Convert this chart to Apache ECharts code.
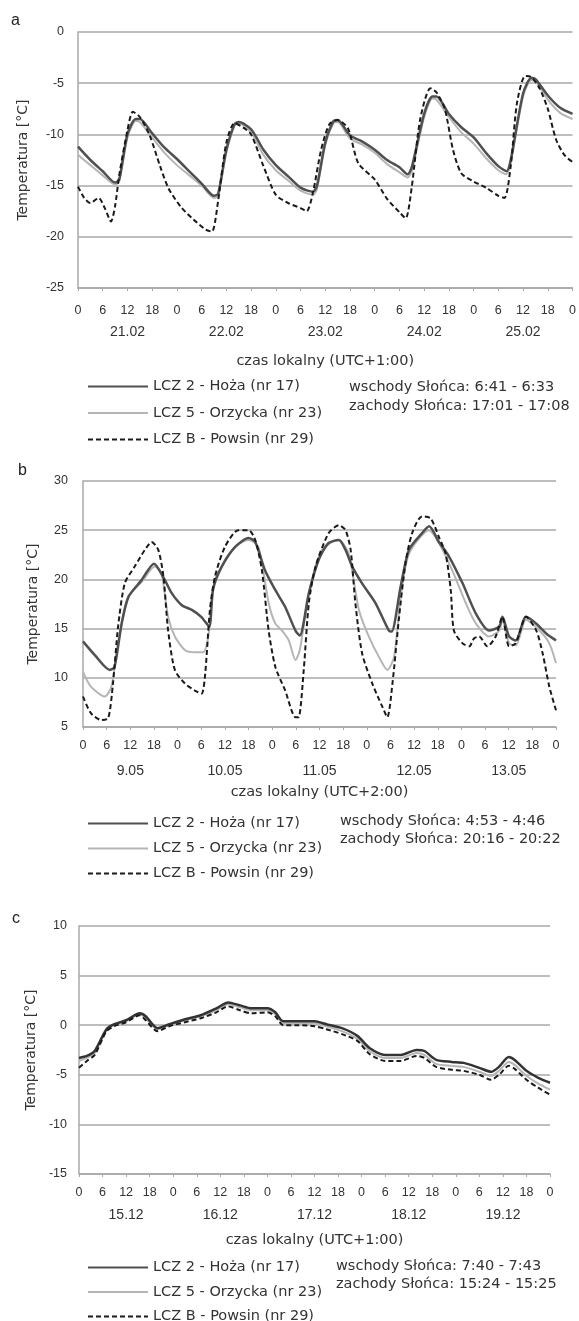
<!DOCTYPE html>
<html>
<head>
<meta charset="utf-8">
<script src="https://cdn.jsdelivr.net/npm/echarts@6/dist/echarts.min.js"></script>
<style>
html,body{margin:0;padding:0;background:#fff;}
#chart{width:579px;height:1321px;}
</style>
</head>
<body>
<div id="chart"></div>
<script>
// ---------- DATA ----------
const hourLabels = ['0', '6', '12', '18'];
const seriesNames = ['LCZ 2 - Hoża (nr 17)', 'LCZ 5 - Orzycka (nr 23)', 'LCZ B - Powsin (nr 29)'];

// panel a (luty)
const datesA = ['21.02', '22.02', '23.02', '24.02', '25.02'];
const aHoza = [[0,-11.2],[3,-12.5],[6,-13.6],[9,-14.7],[10,-14.4],[12,-10.0],[14,-8.5],[15,-8.5],[18,-9.9],[21,-11.3],[24,-12.4],[27,-13.6],[30,-14.8],[33,-16.0],[34,-15.8],[36,-11.5],[38,-9.0],[39,-8.8],[42,-9.5],[45,-11.5],[48,-13.0],[51,-14.1],[54,-15.2],[57,-15.6],[58,-15.0],[60,-10.8],[62,-8.7],[63,-8.6],[66,-10.1],[69,-10.7],[72,-11.5],[75,-12.5],[78,-13.2],[80,-13.9],[81,-13.2],[84,-8.0],[86,-6.3],[87,-6.3],[90,-8.0],[93,-9.3],[96,-10.3],[99,-11.8],[102,-13.1],[104,-13.6],[105,-12.5],[108,-6.0],[110,-4.5],[111,-4.6],[114,-6.2],[117,-7.4],[120,-8.0]];
const aOrzycka = [[0,-12.0],[3,-13.0],[6,-14.0],[9,-14.9],[10,-14.6],[12,-10.3],[14,-8.7],[15,-8.8],[18,-10.3],[21,-11.8],[24,-13.0],[27,-14.0],[30,-15.0],[33,-16.2],[34,-16.0],[36,-11.8],[38,-9.1],[39,-8.9],[42,-9.8],[45,-12.0],[48,-13.5],[51,-14.5],[54,-15.5],[57,-15.9],[58,-15.3],[60,-11.0],[62,-8.9],[63,-8.8],[66,-10.4],[69,-11.0],[72,-11.8],[75,-12.9],[78,-13.7],[80,-14.2],[81,-13.6],[84,-8.3],[86,-6.5],[87,-6.6],[90,-8.3],[93,-9.8],[96,-10.9],[99,-12.3],[102,-13.5],[104,-13.9],[105,-12.8],[108,-6.3],[110,-4.7],[111,-4.8],[114,-6.6],[117,-7.9],[120,-8.5]];
const aPowsin = [[0,-15.1],[1.5,-16.2],[3,-16.7],[5,-16.2],[6.5,-17.2],[8,-18.5],[9,-17.0],[10,-14.0],[12,-9.6],[13.3,-7.8],[15,-8.3],[17.4,-10.1],[20,-13.2],[22,-15.3],[25,-17.1],[28,-18.3],[31,-19.3],[32.5,-19.5],[34,-16.5],[36,-10.8],[38,-8.9],[40,-9.3],[42,-10.0],[45,-13.1],[48,-15.9],[51,-16.7],[54,-17.2],[55.5,-17.5],[57,-15.7],[59,-11.5],[61,-9.0],[63,-8.6],[65.5,-9.4],[68,-12.8],[72,-14.4],[75,-16.3],[78,-17.6],[79.5,-18.2],[81,-15.1],[83,-8.6],[85.5,-5.5],[87,-5.9],[89,-7.5],[91,-11.5],[93,-13.8],[96,-14.6],[99,-15.2],[102,-16.0],[103.5,-16.2],[105,-13.1],[106.5,-7.0],[108.5,-4.3],[110,-4.4],[112,-5.5],[114,-7.5],[116,-10.5],[118,-12.0],[120,-12.7]];

// panel b (maj)
const datesB = ['9.05', '10.05', '11.05', '12.05', '13.05'];
const bHoza = [[0,13.7],[3,12.3],[6.8,10.8],[8,11.1],[9.8,15.5],[11.5,18.2],[14.8,19.9],[18,21.6],[20.8,19.9],[22.5,18.6],[25,17.4],[27.6,16.9],[30,16.2],[32,15.2],[33,19.0],[35.2,21.3],[38.6,23.3],[42,24.2],[43.7,23.8],[46.2,20.9],[48.8,18.9],[51.3,17.2],[53.9,14.8],[55,14.3],[57.3,18.6],[59.8,22.0],[62.3,23.7],[64.9,24.0],[66.6,23.0],[68.3,21.3],[70.8,19.6],[74.2,17.6],[77.6,14.8],[78.3,14.7],[80.6,19.3],[82.7,23.0],[86,24.7],[87.8,25.4],[90.3,23.8],[92.9,22.3],[96.3,19.6],[99.7,16.5],[103,14.8],[105.6,15.2],[106.4,16.2],[108.1,14.2],[109.8,13.8],[112.4,16.2],[115,15.5],[117.5,14.5],[120,13.8]];
const bOrzycka = [[0,10.6],[2,9.1],[5.5,8.1],[7.2,9.1],[8.9,13.5],[11.5,18.2],[15,19.8],[18.2,21.3],[19.9,20.6],[21.6,16.2],[23.3,14.2],[25.9,12.8],[28.4,12.6],[30.5,12.6],[31.8,14.2],[33.5,19.9],[38.6,23.3],[42,24.0],[44.5,23.3],[47.1,17.6],[48.8,15.5],[50.5,14.8],[52.2,13.8],[53.9,11.8],[55,12.8],[57.3,18.6],[60.6,23.0],[64.9,24.0],[67.4,22.6],[70,16.9],[72.5,14.2],[75.1,12.1],[77.2,10.8],[78.9,12.1],[80.6,18.2],[82.7,22.6],[87.8,25.0],[90.3,23.7],[93.7,20.9],[97.1,17.6],[99.7,15.5],[103,14.2],[105.6,14.8],[106.4,15.9],[108.1,13.5],[109.8,13.3],[112.4,15.9],[115.8,14.8],[118.3,13.5],[120,11.5]];
const bPowsin = [[0,8.1],[2,6.4],[4.7,5.7],[6.4,5.9],[7.6,9.4],[8.9,15.2],[10.6,19.6],[13.1,21.3],[15.7,23.0],[17.4,23.8],[19.1,23.0],[20.4,20.3],[21.6,14.8],[23.3,10.8],[25.9,9.4],[28.4,8.7],[30.1,8.4],[31,10.4],[32.2,16.9],[33.5,20.3],[36,23.3],[39.4,25.0],[42,25.0],[43.7,24.0],[45.4,20.9],[47.1,14.8],[48.8,11.1],[51.3,8.7],[53.9,6.0],[54.7,6.0],[56,10.8],[57.3,17.6],[59,21.3],[62.3,24.7],[64.9,25.5],[66.6,25.0],[67.9,23.0],[69.1,17.6],[70.8,12.5],[73.4,9.4],[75.9,7.1],[77.2,6.0],[78.5,9.4],[80.2,16.2],[81.8,21.6],[83.5,24.7],[86,26.4],[88.2,26.2],[90.3,24.3],[92,22.6],[93.3,18.9],[94.1,14.8],[96.3,13.5],[98,13.2],[99.2,14.0],[100.5,14.2],[102.6,13.2],[104.7,14.2],[106.4,16.2],[108.1,13.2],[109.8,13.5],[112.4,16.2],[115,14.8],[116.6,12.5],[118.3,9.1],[120,6.7]];

// panel c (grudzień)
const datesC = ['15.12', '16.12', '17.12', '18.12', '19.12'];
const cHoza = [[0,-3.3],[2,-3.1],[4,-2.6],[7,-0.4],[9,0.1],[12,0.5],[15.5,1.2],[17,0.9],[20,-0.3],[23,0.1],[27,0.6],[31,1.0],[35,1.7],[38,2.3],[41,2.0],[44,1.7],[48,1.7],[50,1.3],[52,0.4],[56,0.4],[60,0.4],[63,0.1],[67,-0.3],[71,-1.1],[74,-2.3],[78,-3.0],[82,-3.0],[86,-2.5],[88,-2.6],[91,-3.5],[95,-3.7],[98,-3.8],[102,-4.3],[105,-4.7],[107,-4.2],[109.5,-3.2],[111,-3.5],[114,-4.6],[117,-5.3],[120,-5.8]];
const cOrzycka = [[0,-3.6],[2,-3.3],[4,-2.8],[7,-0.5],[9,0.0],[12,0.4],[15.5,1.1],[17,0.7],[20,-0.4],[23,0.0],[27,0.5],[31,0.9],[35,1.5],[38,2.1],[41,1.8],[44,1.5],[48,1.5],[50,1.1],[52,0.2],[56,0.2],[60,0.2],[63,-0.1],[67,-0.6],[71,-1.4],[74,-2.6],[78,-3.3],[82,-3.3],[86,-2.8],[88,-3.0],[91,-3.9],[95,-4.1],[98,-4.2],[102,-4.7],[105,-5.1],[107,-4.6],[109.5,-3.7],[111,-4.0],[114,-5.1],[117,-5.9],[120,-6.5]];
const cPowsin = [[0,-4.3],[2,-3.6],[4,-3.0],[7,-0.6],[9,-0.1],[12,0.3],[15.5,1.0],[17,0.5],[20,-0.6],[23,-0.1],[27,0.3],[31,0.7],[35,1.3],[38,1.9],[41,1.5],[44,1.2],[48,1.3],[50,0.9],[52,0.0],[56,0.0],[60,-0.1],[63,-0.4],[67,-0.9],[71,-1.6],[74,-2.9],[78,-3.6],[82,-3.6],[86,-3.1],[88,-3.3],[91,-4.2],[95,-4.5],[98,-4.6],[102,-5.0],[105,-5.5],[107,-5.0],[109.5,-4.1],[111,-4.4],[114,-5.5],[117,-6.3],[120,-7.0]];

// ---------- LAYOUT ----------
const FONT = 'Liberation Sans, Arial, sans-serif';
const WFONT = 'DejaVu Sans, sans-serif';
const TXT = '#333';
const GRID_C = '#a8a8a8';

const panels = [
  { letter:'a', dates:datesA, tz:'czas lokalny (UTC+1:00)', ymin:-25, ymax:0,
    sun:['wschody Słońca: 6:41 - 6:33','zachody Słońca: 17:01 - 17:08'],
    data:[aHoza,aOrzycka,aPowsin],
    grid:{left:78, top:32, width:498, height:256},
    tickMargin:16, dateOffset:37, nameGap:29, yNameGap:48, yMargin:14,
    letterPos:[11,13], legendTop:379, legendGap:11.5, sunX:349, sunY:[380,399], dark:'#505050'},
  { letter:'b', dates:datesB, tz:'czas lokalny (UTC+2:00)', ymin:5, ymax:30,
    sun:['wschody Słońca: 4:53 - 4:46','zachody Słońca: 20:16 - 20:22'],
    data:[bHoza,bOrzycka,bPowsin],
    grid:{left:83, top:481, width:473, height:246},
    tickMargin:12, dateOffset:37, nameGap:21, yNameGap:43, yMargin:15,
    letterPos:[18,463], legendTop:816, legendGap:10, sunX:340, sunY:[814,832], dark:'#505050'},
  { letter:'c', dates:datesC, tz:'czas lokalny (UTC+1:00)', ymin:-15, ymax:10,
    sun:['wschody Słońca: 7:40 - 7:43','zachody Słońca: 15:24 - 15:25'],
    data:[cHoza,cOrzycka,cPowsin],
    grid:{left:79, top:926, width:471, height:248},
    tickMargin:12, dateOffset:34, nameGap:25, yNameGap:41, yMargin:12,
    letterPos:[12,911], legendTop:1260, legendGap:9.5, sunX:336, sunY:[1259,1277], dark:'#333'}
];

const option = {
  animation:false,
  backgroundColor:'#fff',
  textStyle:{fontFamily:FONT},
  grid:[], xAxis:[], yAxis:[], series:[], legend:[], title:[]
};

panels.forEach((p, i) => {
  option.grid.push(Object.assign({containLabel:false}, p.grid));
  // hour axis
  option.xAxis.push({
    gridIndex:i, type:'value', min:0, max:120, interval:6,
    axisLine:{show:true, onZero:false, lineStyle:{color:GRID_C, width:1.5}},
    axisTick:{show:true, length:3, lineStyle:{color:GRID_C}},
    splitLine:{show:false},
    axisLabel:{fontSize:12.5, color:TXT, fontFamily:FONT, margin:p.tickMargin,
      formatter:v => hourLabels[Math.round(v/6) % 4]}
  });
  // date axis
  option.xAxis.push({
    gridIndex:i, type:'category', data:p.dates, position:'bottom', offset:p.dateOffset,
    axisLine:{show:false}, axisTick:{show:false}, splitLine:{show:false},
    axisLabel:{fontSize:14, color:TXT, fontFamily:FONT, margin:0},
    name:p.tz, nameLocation:'middle', nameGap:p.nameGap,
    nameTextStyle:{fontSize:14.5, color:TXT, fontFamily:WFONT}
  });
  option.yAxis.push({
    gridIndex:i, type:'value', min:p.ymin, max:p.ymax, interval:5,
    axisLine:{show:true, lineStyle:{color:GRID_C, width:1.5}},
    axisTick:{show:false},
    splitLine:{show:true, lineStyle:{color:GRID_C, width:1.5}},
    axisLabel:{fontSize:12.5, color:TXT, fontFamily:FONT, margin:p.yMargin},
    name:'Temperatura [°C]', nameLocation:'middle', nameRotate:90, nameGap:p.yNameGap,
    nameTextStyle:{fontSize:14, color:TXT, fontFamily:WFONT}
  });
  const styles = [
    {color:p.dark, width:2.5, type:'solid'},
    {color:'#b5b5b5', width:2, type:'solid'},
    {color:'#1a1a1a', width:2, type:[5,3]}
  ];
  const order = [1,0,2];
  order.forEach(k => {
    option.series.push({
      type:'line', name:seriesNames[k], xAxisIndex:2*i, yAxisIndex:i,
      data:p.data[k], symbol:'none', showSymbol:false, smooth:0.25,
      lineStyle:Object.assign({}, styles[k]), itemStyle:{color:styles[k].color},
      z: k===1 ? 2 : 3
    });
  });
  option.legend.push({
    orient:'vertical', left:87, top:p.legendTop, height:90, padding:0,
    itemWidth:60, itemHeight:14, itemGap:p.legendGap, data:seriesNames, selectedMode:false,
    itemStyle:{opacity:0},
    textStyle:{fontSize:14.5, color:TXT, fontFamily:WFONT, lineHeight:14}
  });
  option.title.push({
    text:p.letter, left:p.letterPos[0], top:p.letterPos[1], padding:0,
    textStyle:{fontSize:16, fontWeight:'normal', color:'#222', fontFamily:FONT}
  });
  p.sun.forEach((s, j) => {
    option.title.push({
      text:s, left:p.sunX, top:p.sunY[j], padding:0,
      textStyle:{fontSize:14.5, fontWeight:'normal', color:TXT, fontFamily:WFONT}
    });
  });
});

const chart = echarts.init(document.getElementById('chart'), null, {renderer:'canvas'});
chart.setOption(option);
</script>
</body>
</html>
